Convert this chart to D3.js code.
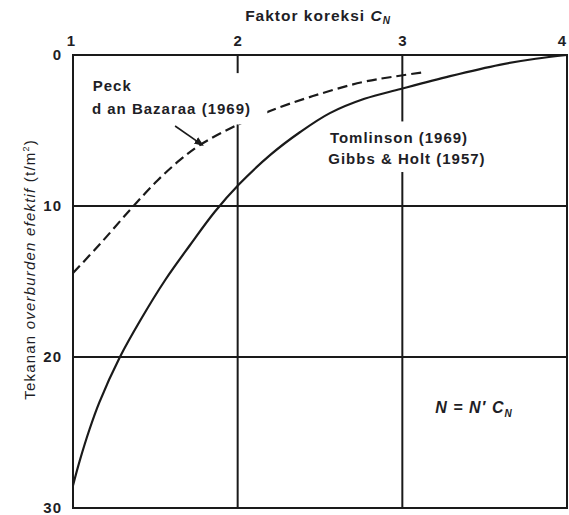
<!DOCTYPE html>
<html>
<head>
<meta charset="utf-8">
<script src="https://cdn.jsdelivr.net/npm/d3@7"></script>
<style>
  body { margin: 0; background: #fff; }
  text { font-family: "Liberation Sans", Arial, sans-serif; fill: #1e1e26; }
</style>
</head>
<body>
<div id="chart"></div>
<script>
// correction factor C_N vs effective overburden pressure (t/m2)
const xTicks = [1, 2, 3, 4];
const yTicks = [0, 10, 20, 30];
const gridX = [2, 3];
const gridY = [10, 20];

// Tomlinson (1969) / Gibbs & Holt (1957)
const solidCN    = [1.0, 1.04, 1.10, 1.16, 1.285, 1.41, 1.56, 1.71, 1.86, 2.01, 2.2, 2.38, 2.56, 2.77, 2.99, 3.29, 3.59, 3.81, 4.0];
const solidDepth = [28.5, 26.9, 24.8, 23.0, 20.0, 17.55, 14.9, 12.6, 10.4, 8.55, 6.6, 5.1, 3.85, 2.9, 2.25, 1.4, 0.65, 0.25, 0];

// Peck dan Bazaraa (1969)
const dashCN    = [1.0, 1.164, 1.346, 1.51, 1.65, 1.771, 1.972, 2.196, 2.457, 2.761, 2.974, 3.138];
const dashDepth = [14.44, 12.52, 10.26, 8.34, 6.95, 5.96, 4.77, 3.71, 2.72, 1.79, 1.39, 1.13];

const width = 569;
const height = 515;

const x = d3.scaleLinear().domain([1, 4]).range([73, 567]);
const y = d3.scaleLinear().domain([0, 30]).range([55, 508]);

const svg = d3.select("#chart")
    .append("svg")
    .attr("width", width)
    .attr("height", height);

const ink = "#1a1a1a";

// frame and grid
const frame = svg.append("g")
    .attr("stroke", ink)
    .attr("stroke-width", 2)
    .attr("fill", "none");

frame.append("rect")
    .attr("x", x(1))
    .attr("y", y(0))
    .attr("width", x(4) - x(1))
    .attr("height", y(30) - y(0));

frame.selectAll(".gx")
    .data(gridX)
    .enter()
    .append("line")
    .attr("x1", (d) => x(d))
    .attr("x2", (d) => x(d))
    .attr("y1", y(0))
    .attr("y2", y(30));

frame.selectAll(".gy")
    .data(gridY)
    .enter()
    .append("line")
    .attr("x1", x(1))
    .attr("x2", x(4))
    .attr("y1", (d) => y(d))
    .attr("y2", (d) => y(d));

// curves
const line = d3.line()
    .x((d) => x(d[0]))
    .y((d) => y(d[1]))
    .curve(d3.curveCatmullRom.alpha(0.5));

svg.append("path")
    .datum(d3.zip(solidCN, solidDepth))
    .attr("d", line)
    .attr("fill", "none")
    .attr("stroke", ink)
    .attr("stroke-width", 2.2);

svg.append("path")
    .datum(d3.zip(dashCN, dashDepth))
    .attr("d", line)
    .attr("fill", "none")
    .attr("stroke", ink)
    .attr("stroke-width", 2.2)
    .attr("stroke-dasharray", "10,5");

// label boxes knock out the grid behind the text
svg.append("rect")
    .attr("x", x(1.09))
    .attr("y", y(1.2))
    .attr("width", x(2.18) - x(1.09))
    .attr("height", y(4.6) - y(1.2))
    .attr("fill", "#fff");

svg.append("rect")
    .attr("x", x(2.53))
    .attr("y", y(4.4))
    .attr("width", x(3.62) - x(2.53))
    .attr("height", y(7.75) - y(4.4))
    .attr("fill", "#fff");

// axes (labels only)
const xAxis = svg.append("g")
    .attr("transform", `translate(0,${y(0)})`)
    .call(d3.axisTop(x).tickValues(xTicks).tickSize(0).tickPadding(9).tickFormat(d3.format("d")));
xAxis.select(".domain").remove();
xAxis.selectAll(".tick text")
    .attr("dx", (d) => (d === 4 ? -5 : d === 1 ? -2 : 0));

const yAxis = svg.append("g")
    .attr("transform", `translate(${x(1)},0)`)
    .call(d3.axisLeft(y).tickValues(yTicks).tickSize(0).tickPadding(11).tickFormat(d3.format("d")));
yAxis.select(".domain").remove();

svg.selectAll(".tick text")
    .style("font-size", "15px")
    .style("font-weight", "bold")
    .style("letter-spacing", "1px")
    .style("font-family", "Liberation Sans, Arial, sans-serif")
    .attr("fill", "#1e1e26");

// title
const title = svg.append("text")
    .attr("x", 318)
    .attr("y", 21)
    .attr("text-anchor", "middle")
    .style("font-size", "15.5px")
    .style("font-weight", "bold")
    .style("letter-spacing", "1px");
title.append("tspan").text("Faktor koreksi ");
title.append("tspan").style("font-style", "italic").text("C");
title.append("tspan").style("font-style", "italic").style("font-size", "10px").attr("dy", 3).text("N");

// y label
const ylab = svg.append("text")
    .attr("transform", `translate(35,${y(14.2)}) rotate(-90)`)
    .attr("text-anchor", "middle")
    .style("font-size", "15px")
    .style("letter-spacing", "1.2px");
ylab.append("tspan").text("Tekanan ");
ylab.append("tspan").style("font-style", "italic").text("overburden efektif");
ylab.append("tspan").text(" (t/m");
ylab.append("tspan").style("font-size", "9px").attr("dy", -6).text("2");
ylab.append("tspan").attr("dy", 6).text(")");

// annotations
const note = (cn, d, txt) => svg.append("text")
    .attr("x", x(cn))
    .attr("y", y(d))
    .style("font-size", "15px")
    .style("font-weight", "bold")
    .style("letter-spacing", "1px")
    .text(txt);

note(1.12, 2.4, "Peck");
note(1.115, 3.9, "d an Bazaraa (1969)");
note(2.56, 5.8, "Tomlinson (1969)");
note(2.55, 7.2, "Gibbs & Holt (1957)");

// arrow pointing at the dashed curve
svg.append("defs").append("marker")
    .attr("id", "head")
    .attr("viewBox", "0 0 10 10")
    .attr("refX", 8)
    .attr("refY", 5)
    .attr("markerWidth", 6)
    .attr("markerHeight", 6)
    .attr("markerUnits", "strokeWidth")
    .attr("orient", "auto")
    .append("path")
    .attr("d", "M0,1L10,5L0,9Z")
    .attr("fill", ink);

svg.append("line")
    .attr("x1", x(1.62))
    .attr("y1", y(4.7))
    .attr("x2", x(1.785))
    .attr("y2", y(5.95))
    .attr("stroke", ink)
    .attr("stroke-width", 1.6)
    .attr("marker-end", "url(#head)");

// formula
const formula = svg.append("text")
    .attr("x", x(3.2))
    .attr("y", y(23.7))
    .style("font-size", "16px")
    .style("font-weight", "bold")
    .style("font-style", "italic")
    .style("letter-spacing", "1px");
formula.append("tspan").text("N = N\u2032 C");
formula.append("tspan").style("font-size", "10px").attr("dy", 4).text("N");
</script>
</body>
</html>
